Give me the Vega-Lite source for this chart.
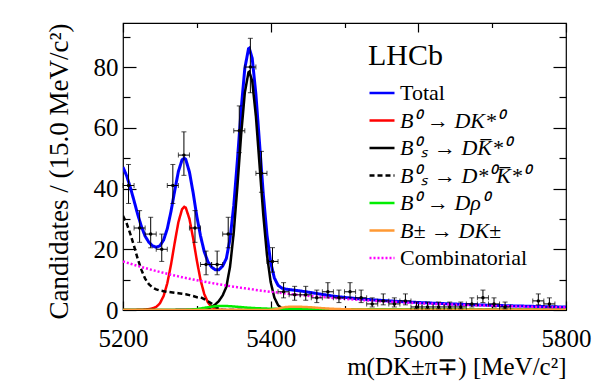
{
 "$schema": "https://vega.github.io/schema/vega-lite/v6.json",
 "width": 443, "height": 287,
 "autosize": {"type": "none"},
 "padding": {"left": 123, "top": 23, "right": 36, "bottom": 81},
 "background": "white",
 "config": {
  "view": {"stroke": "#000", "strokeWidth": 1.2},
  "font": "'Liberation Serif', 'Times New Roman', serif",
  "axis": {"labelFont": "'Liberation Serif', 'Times New Roman', serif", "titleFont": "'Liberation Serif', 'Times New Roman', serif", "labelColor": "black", "titleColor": "black", "tickColor": "black", "tickWidth": 1.2, "titleFontWeight": "normal", "grid": false, "domain": false, "labelFontSize": 25, "titleFontSize": 25, "format": "d"},
  "legend": {"labelFont": "'Liberation Serif', 'Times New Roman', serif", "titleFont": "'Liberation Serif', 'Times New Roman', serif"}
 },
 "datasets": {
  "curves": [
   {"m":5200,"tot":47.03,"b0":0,"bs":0,"bss":31,"drho":0,"dk":0.03,"comb":16.0},
   {"m":5205,"tot":44.14,"b0":0,"bs":0,"bss":28.5,"drho":0,"dk":0.03,"comb":15.61},
   {"m":5210,"tot":40.29,"b0":0.02,"bs":0,"bss":25,"drho":0,"dk":0.03,"comb":15.24},
   {"m":5215,"tot":35.93,"b0":0.03,"bs":0,"bss":21,"drho":0,"dk":0.03,"comb":14.87},
   {"m":5220,"tot":31.39,"b0":0.05,"bs":0,"bss":16.8,"drho":0,"dk":0.03,"comb":14.51},
   {"m":5225,"tot":27.47,"b0":0.08,"bs":0,"bss":13.2,"drho":0,"dk":0.03,"comb":14.16},
   {"m":5230,"tot":24.29,"b0":0.15,"bs":0,"bss":10.3,"drho":0,"dk":0.03,"comb":13.81},
   {"m":5235,"tot":22.31,"b0":0.3,"bs":0,"bss":8.5,"drho":0,"dk":0.03,"comb":13.48},
   {"m":5240,"tot":21.13,"b0":0.55,"bs":0,"bss":7.4,"drho":0,"dk":0.03,"comb":13.15},
   {"m":5245,"tot":20.66,"b0":1.0,"bs":0,"bss":6.8,"drho":0,"dk":0.03,"comb":12.83},
   {"m":5250,"tot":21.15,"b0":2.2,"bs":0,"bss":6.4,"drho":0,"dk":0.03,"comb":12.52},
   {"m":5255,"tot":23.05,"b0":4.6,"bs":0,"bss":6.2,"drho":0,"dk":0.03,"comb":12.22},
   {"m":5260,"tot":26.77,"b0":8.8,"bs":0.02,"bss":6.0,"drho":0,"dk":0.03,"comb":11.92},
   {"m":5265,"tot":32.44,"b0":14.9,"bs":0.03,"bss":5.85,"drho":0,"dk":0.03,"comb":11.63},
   {"m":5270,"tot":39.22,"b0":22.1,"bs":0.04,"bss":5.7,"drho":0,"dk":0.03,"comb":11.35},
   {"m":5275,"tot":45.61,"b0":28.9,"bs":0.05,"bss":5.55,"drho":0,"dk":0.03,"comb":11.08},
   {"m":5280,"tot":49.45,"b0":33.2,"bs":0.06,"bss":5.35,"drho":0,"dk":0.03,"comb":10.81},
   {"m":5283,"tot":50.0,"b0":34.0,"bs":0.07,"bss":5.25,"drho":0,"dk":0.03,"comb":10.65},
   {"m":5285,"tot":49.58,"b0":33.7,"bs":0.08,"bss":5.2,"drho":0.02,"dk":0.03,"comb":10.55},
   {"m":5290,"tot":45.42,"b0":30.0,"bs":0.1,"bss":4.9,"drho":0.1,"dk":0.03,"comb":10.29},
   {"m":5295,"tot":38.6,"b0":23.6,"bs":0.13,"bss":4.6,"drho":0.2,"dk":0.03,"comb":10.04},
   {"m":5300,"tot":30.8,"b0":16.3,"bs":0.17,"bss":4.2,"drho":0.3,"dk":0.03,"comb":9.8},
   {"m":5305,"tot":24.41,"b0":9.9,"bs":0.22,"bss":4.2,"drho":0.5,"dk":0.03,"comb":9.56},
   {"m":5310,"tot":19.26,"b0":5.3,"bs":0.3,"bss":3.6,"drho":0.7,"dk":0.03,"comb":9.33},
   {"m":5315,"tot":15.89,"b0":2.5,"bs":0.45,"bss":2.9,"drho":0.9,"dk":0.03,"comb":9.11},
   {"m":5320,"tot":14.12,"b0":1.0,"bs":1.0,"bss":2.1,"drho":1.1,"dk":0.03,"comb":8.89},
   {"m":5325,"tot":13.23,"b0":0.38,"bs":1.8,"bss":1.1,"drho":1.25,"dk":0.03,"comb":8.67},
   {"m":5330,"tot":13.26,"b0":0.12,"bs":3.0,"bss":0.3,"drho":1.35,"dk":0.03,"comb":8.46},
   {"m":5335,"tot":14.47,"b0":0.03,"bs":4.8,"bss":0,"drho":1.35,"dk":0.03,"comb":8.26},
   {"m":5340,"tot":16.99,"b0":0,"bs":7.6,"bss":0,"drho":1.3,"dk":0.03,"comb":8.06},
   {"m":5345,"tot":23.44,"b0":0,"bs":14.3,"bss":0,"drho":1.25,"dk":0.03,"comb":7.86},
   {"m":5350,"tot":34.35,"b0":0,"bs":25.5,"bss":0,"drho":1.15,"dk":0.03,"comb":7.67},
   {"m":5355,"tot":49.47,"b0":0,"bs":40.9,"bss":0,"drho":1.05,"dk":0.03,"comb":7.49},
   {"m":5360,"tot":65.99,"b0":0,"bs":57.7,"bss":0,"drho":0.95,"dk":0.03,"comb":7.31},
   {"m":5365,"tot":79.61,"b0":0,"bs":71.6,"bss":0,"drho":0.85,"dk":0.03,"comb":7.13},
   {"m":5370,"tot":86.04,"b0":0,"bs":78.3,"bss":0,"drho":0.75,"dk":0.03,"comb":6.96},
   {"m":5371,"tot":86.2,"b0":0,"bs":78.5,"bss":0,"drho":0.74,"dk":0.03,"comb":6.93},
   {"m":5375,"tot":82.9,"b0":0,"bs":75.4,"bss":0,"drho":0.68,"dk":0.03,"comb":6.79},
   {"m":5380,"tot":71.05,"b0":0,"bs":63.8,"bss":0,"drho":0.6,"dk":0.03,"comb":6.62},
   {"m":5385,"tot":54.64,"b0":0,"bs":47.6,"bss":0,"drho":0.55,"dk":0.03,"comb":6.46},
   {"m":5390,"tot":38.14,"b0":0,"bs":31.3,"bss":0,"drho":0.5,"dk":0.03,"comb":6.31},
   {"m":5395,"tot":24.74,"b0":0,"bs":18.1,"bss":0,"drho":0.46,"dk":0.03,"comb":6.15},
   {"m":5400,"tot":15.68,"b0":0,"bs":9.2,"bss":0,"drho":0.42,"dk":0.05,"comb":6.01},
   {"m":5405,"tot":10.55,"b0":0,"bs":4.1,"bss":0,"drho":0.39,"dk":0.2,"comb":5.86},
   {"m":5410,"tot":8.13,"b0":0,"bs":1.6,"bss":0,"drho":0.36,"dk":0.45,"comb":5.72},
   {"m":5415,"tot":7.23,"b0":0,"bs":0.56,"bss":0,"drho":0.34,"dk":0.75,"comb":5.58},
   {"m":5420,"tot":6.88,"b0":0,"bs":0.17,"bss":0,"drho":0.32,"dk":0.95,"comb":5.44},
   {"m":5425,"tot":6.72,"b0":0,"bs":0.05,"bss":0,"drho":0.31,"dk":1.05,"comb":5.31},
   {"m":5430,"tot":6.58,"b0":0,"bs":0,"bss":0,"drho":0.3,"dk":1.1,"comb":5.18},
   {"m":5440,"tot":6.27,"b0":0,"bs":0,"bss":0,"drho":0.28,"dk":1.05,"comb":4.94},
   {"m":5450,"tot":5.91,"b0":0,"bs":0,"bss":0,"drho":0.26,"dk":0.95,"comb":4.7},
   {"m":5460,"tot":5.53,"b0":0,"bs":0,"bss":0,"drho":0.25,"dk":0.8,"comb":4.48},
   {"m":5470,"tot":5.12,"b0":0,"bs":0,"bss":0,"drho":0.24,"dk":0.6,"comb":4.28},
   {"m":5480,"tot":4.74,"b0":0,"bs":0,"bss":0,"drho":0.23,"dk":0.45,"comb":4.06},
   {"m":5490,"tot":4.42,"b0":0,"bs":0,"bss":0,"drho":0.22,"dk":0.33,"comb":3.87},
   {"m":5500,"tot":4.14,"b0":0,"bs":0,"bss":0,"drho":0.21,"dk":0.25,"comb":3.68},
   {"m":5520,"tot":3.68,"b0":0,"bs":0,"bss":0,"drho":0.2,"dk":0.15,"comb":3.33},
   {"m":5540,"tot":3.31,"b0":0,"bs":0,"bss":0,"drho":0.19,"dk":0.1,"comb":3.02},
   {"m":5560,"tot":3.0,"b0":0,"bs":0,"bss":0,"drho":0.18,"dk":0.08,"comb":2.74},
   {"m":5580,"tot":2.72,"b0":0,"bs":0,"bss":0,"drho":0.17,"dk":0.06,"comb":2.49},
   {"m":5600,"tot":2.47,"b0":0,"bs":0,"bss":0,"drho":0.16,"dk":0.06,"comb":2.25},
   {"m":5620,"tot":2.25,"b0":0,"bs":0,"bss":0,"drho":0.15,"dk":0.06,"comb":2.04},
   {"m":5640,"tot":2.05,"b0":0,"bs":0,"bss":0,"drho":0.14,"dk":0.06,"comb":1.85},
   {"m":5660,"tot":1.86,"b0":0,"bs":0,"bss":0,"drho":0.13,"dk":0.05,"comb":1.68},
   {"m":5680,"tot":1.69,"b0":0,"bs":0,"bss":0,"drho":0.12,"dk":0.05,"comb":1.52},
   {"m":5700,"tot":1.54,"b0":0,"bs":0,"bss":0,"drho":0.11,"dk":0.05,"comb":1.38},
   {"m":5720,"tot":1.4,"b0":0,"bs":0,"bss":0,"drho":0.1,"dk":0.05,"comb":1.25},
   {"m":5740,"tot":1.29,"b0":0,"bs":0,"bss":0,"drho":0.1,"dk":0.05,"comb":1.14},
   {"m":5760,"tot":1.17,"b0":0,"bs":0,"bss":0,"drho":0.09,"dk":0.05,"comb":1.03},
   {"m":5780,"tot":1.07,"b0":0,"bs":0,"bss":0,"drho":0.09,"dk":0.05,"comb":0.93},
   {"m":5800,"tot":0.98,"b0":0,"bs":0,"bss":0,"drho":0.08,"dk":0.05,"comb":0.85}
  ],
  "pts": [
   {"m":5207.5,"n":41,"lo":35.08,"hi":47.92,"xlo":5200,"xhi":5215},
   {"m":5222.5,"n":27,"lo":22.28,"hi":32.72,"xlo":5215,"xhi":5230},
   {"m":5237.5,"n":25,"lo":20.48,"hi":30.53,"xlo":5230,"xhi":5245},
   {"m":5252.5,"n":20,"lo":16.0,"hi":25.0,"xlo":5245,"xhi":5260},
   {"m":5267.5,"n":41,"lo":35.08,"hi":47.92,"xlo":5260,"xhi":5275},
   {"m":5282.5,"n":51,"lo":44.34,"hi":58.66,"xlo":5275,"xhi":5290},
   {"m":5297.5,"n":27,"lo":22.28,"hi":32.72,"xlo":5290,"xhi":5305},
   {"m":5312.5,"n":15,"lo":11.6,"hi":19.4,"xlo":5305,"xhi":5320},
   {"m":5327.5,"n":15,"lo":11.6,"hi":19.4,"xlo":5320,"xhi":5335},
   {"m":5342.5,"n":25,"lo":20.48,"hi":30.53,"xlo":5335,"xhi":5350},
   {"m":5357.5,"n":59,"lo":51.8,"hi":67.2,"xlo":5350,"xhi":5365},
   {"m":5372.5,"n":80,"lo":71.54,"hi":89.46,"xlo":5365,"xhi":5380},
   {"m":5387.5,"n":45,"lo":38.77,"hi":52.23,"xlo":5380,"xhi":5395},
   {"m":5402.5,"n":16,"lo":12.47,"hi":20.53,"xlo":5395,"xhi":5410},
   {"m":5417.5,"n":6,"lo":4.0,"hi":9.0,"xlo":5410,"xhi":5425},
   {"m":5432.5,"n":5,"lo":3.21,"hi":7.79,"xlo":5425,"xhi":5440},
   {"m":5447.5,"n":5,"lo":3.21,"hi":7.79,"xlo":5440,"xhi":5455},
   {"m":5462.5,"n":4,"lo":2.44,"hi":6.56,"xlo":5455,"xhi":5470},
   {"m":5477.5,"n":6,"lo":4.0,"hi":9.0,"xlo":5470,"xhi":5485},
   {"m":5492.5,"n":4,"lo":2.44,"hi":6.56,"xlo":5485,"xhi":5500},
   {"m":5507.5,"n":6,"lo":4.0,"hi":9.0,"xlo":5500,"xhi":5515},
   {"m":5522.5,"n":4,"lo":2.44,"hi":6.56,"xlo":5515,"xhi":5530},
   {"m":5537.5,"n":2,"lo":1.0,"hi":4.0,"xlo":5530,"xhi":5545},
   {"m":5552.5,"n":3,"lo":1.7,"hi":5.3,"xlo":5545,"xhi":5560},
   {"m":5567.5,"n":2,"lo":1.0,"hi":4.0,"xlo":5560,"xhi":5575},
   {"m":5582.5,"n":3,"lo":1.7,"hi":5.3,"xlo":5575,"xhi":5590},
   {"m":5597.5,"n":1,"lo":0.38,"hi":2.62,"xlo":5590,"xhi":5605},
   {"m":5612.5,"n":1,"lo":0.38,"hi":2.62,"xlo":5605,"xhi":5620},
   {"m":5627.5,"n":1,"lo":0.38,"hi":2.62,"xlo":5620,"xhi":5635},
   {"m":5642.5,"n":1,"lo":0.38,"hi":2.62,"xlo":5635,"xhi":5650},
   {"m":5657.5,"n":1,"lo":0.38,"hi":2.62,"xlo":5650,"xhi":5665},
   {"m":5672.5,"n":2,"lo":1.0,"hi":4.0,"xlo":5665,"xhi":5680},
   {"m":5687.5,"n":4,"lo":2.44,"hi":6.56,"xlo":5680,"xhi":5695},
   {"m":5702.5,"n":2,"lo":1.0,"hi":4.0,"xlo":5695,"xhi":5710},
   {"m":5717.5,"n":1,"lo":0.38,"hi":2.62,"xlo":5710,"xhi":5725},
   {"m":5762.5,"n":3,"lo":1.7,"hi":5.3,"xlo":5755,"xhi":5770},
   {"m":5777.5,"n":2,"lo":1.0,"hi":4.0,"xlo":5770,"xhi":5785}
  ]
 },
 "layer": [
  {
   "data": {"name": "curves"},
   "transform": [{"fold": ["tot"], "as": ["key", "v"]}],
   "mark": {"type": "line", "strokeWidth": 3, "clip": true},
   "encoding": {
    "x": {"field": "m", "type": "quantitative", "scale": {"domain": [5200, 5800], "nice": false, "zero": false},
          "axis": {"orient": "bottom", "values": [5200, 5400, 5600, 5800], "tickSize": -9, "labelPadding": 25, "labelFlush": false, "title": "m(DK\u00b1\u03c0\u2213) [MeV/c\u00b2]", "titleAnchor": "end", "titlePadding": 3}},
    "y": {"field": "v", "type": "quantitative", "scale": {"domain": [0, 94.5], "nice": false},
          "axis": {"orient": "left", "values": [0, 20, 40, 60, 80], "tickSize": -13, "labelPadding": 18, "labelFlush": false, "title": "Candidates / (15.0 MeV/c\u00b2)", "titleFontSize": 27, "titleAnchor": "end", "titlePadding": 20}},
    "color": {"field": "key", "type": "nominal",
      "scale": {"domain": ["tot", "b0", "bs", "bss", "drho", "dk", "comb"], "range": ["#0000ff", "#ff0000", "#000000", "#000000", "#00ee00", "#ff9933", "#ff00ff"]},
      "legend": {"orient": "none", "legendX": 245, "legendY": 18, "direction": "vertical", "title": "LHCb", "titleFontSize": 30, "titleFontWeight": "normal", "titleColor": "black", "titlePadding": 8, "labelFontSize": 22, "labelColor": "black", "labelOffset": 4, "rowPadding": 2.5, "symbolType": "stroke", "symbolSize": 625, "symbolStrokeWidth": 2.5, "padding": 0,
        "labelExpr": "datum.value=='tot'?'Total':datum.value=='b0'?'B\u2070 \u2192 DK*\u2070':datum.value=='bs'?'B\u2070\u209b \u2192 DK\u0305*\u2070':datum.value=='bss'?'B\u2070\u209b \u2192 D*\u2070K\u0305*\u2070':datum.value=='drho'?'B\u2070 \u2192 D\u03c1\u2070':datum.value=='dk'?'B\u00b1 \u2192 DK\u00b1':'Combinatorial'",
        "labelFontStyle": {"expr": "datum.value=='tot'||datum.value=='comb'?'normal':'italic'"}}},
    "strokeDash": {"field": "key", "type": "nominal",
      "scale": {"domain": ["tot", "b0", "bs", "bss", "drho", "dk", "comb"], "range": [[1, 0], [1, 0], [1, 0], [5, 3], [1, 0], [1, 0], [2, 2]]},
      "legend": {"orient": "none", "legendX": 245, "legendY": 18, "direction": "vertical", "title": "LHCb", "titleFontSize": 30, "titleFontWeight": "normal", "titleColor": "black", "titlePadding": 8, "labelFontSize": 22, "labelColor": "black", "labelOffset": 4, "rowPadding": 2.5, "symbolType": "stroke", "symbolSize": 625, "symbolStrokeWidth": 2.5, "padding": 0,
        "labelExpr": "datum.value=='tot'?'Total':datum.value=='b0'?'B\u2070 \u2192 DK*\u2070':datum.value=='bs'?'B\u2070\u209b \u2192 DK\u0305*\u2070':datum.value=='bss'?'B\u2070\u209b \u2192 D*\u2070K\u0305*\u2070':datum.value=='drho'?'B\u2070 \u2192 D\u03c1\u2070':datum.value=='dk'?'B\u00b1 \u2192 DK\u00b1':'Combinatorial'",
        "labelFontStyle": {"expr": "datum.value=='tot'||datum.value=='comb'?'normal':'italic'"}}}
   }
  },
  {
   "data": {"name": "curves"},
   "transform": [{"fold": ["b0", "bs", "bss", "drho", "dk", "comb"], "as": ["key", "v"]}],
   "mark": {"type": "line", "strokeWidth": 2.5, "clip": true},
   "encoding": {
    "x": {"field": "m", "type": "quantitative", "axis": {"orient": "bottom", "values": [5300, 5500, 5700], "tickSize": -4.5, "labels": false, "title": null}},
    "y": {"field": "v", "type": "quantitative", "axis": {"orient": "left", "values": [10, 30, 50, 70, 90], "tickSize": -7, "labels": false, "title": null}},
    "color": {"field": "key", "type": "nominal"},
    "strokeDash": {"field": "key", "type": "nominal"}
   }
  },
  {
   "data": {"name": "pts"},
   "mark": {"type": "errorbar", "ticks": {"size": 5}, "color": "black", "thickness": 1},
   "encoding": {
    "x": {"field": "m", "type": "quantitative", "axis": null},
    "y": {"field": "lo", "type": "quantitative", "axis": null},
    "y2": {"field": "hi"}
   }
  },
  {
   "data": {"name": "pts"},
   "mark": {"type": "errorbar", "ticks": {"size": 5}, "color": "black", "thickness": 1},
   "encoding": {
    "x": {"field": "xlo", "type": "quantitative", "axis": null},
    "x2": {"field": "xhi"},
    "y": {"field": "n", "type": "quantitative", "axis": null}
   }
  },
  {
   "data": {"name": "pts"},
   "mark": {"type": "circle", "size": 12, "color": "black", "opacity": 1},
   "encoding": {
    "x": {"field": "m", "type": "quantitative", "axis": {"orient": "top", "values": [5200, 5400, 5600, 5800], "tickSize": -9, "labels": false, "title": null}},
    "y": {"field": "n", "type": "quantitative", "axis": {"orient": "right", "values": [0, 20, 40, 60, 80], "tickSize": -13, "labels": false, "title": null}}
   }
  },
  {
   "data": {"name": "pts"},
   "mark": {"type": "circle", "size": 12, "opacity": 0},
   "encoding": {
    "x": {"field": "m", "type": "quantitative", "axis": {"orient": "top", "values": [5300, 5500, 5700], "tickSize": -4.5, "labels": false, "title": null}},
    "y": {"field": "n", "type": "quantitative", "axis": {"orient": "right", "values": [10, 30, 50, 70, 90], "tickSize": -7, "labels": false, "title": null}}
   }
  }
 ],
 "resolve": {"axis": {"x": "independent", "y": "independent"}}
}
